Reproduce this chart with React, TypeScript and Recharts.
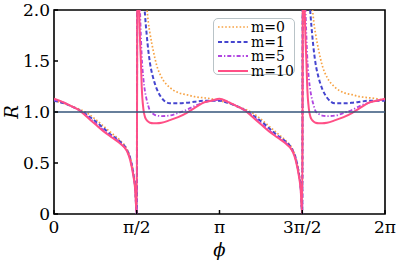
import {
  Label,
  Line,
  LineChart,
  ReferenceArea,
  ReferenceLine,
  XAxis,
  YAxis,
} from "recharts";

// phi in units of pi
const phi = [
  0, 0.05, 0.1, 0.15, 0.2, 0.25, 0.3, 0.35, 0.4, 0.44, 0.46, 0.48, 0.49, 0.5,
  0.505, 0.51, 0.515, 0.52, 0.525, 0.53, 0.54, 0.55, 0.56, 0.57, 0.58, 0.6,
  0.62, 0.65, 0.7, 0.75, 0.8, 0.85, 0.9, 0.95,
  1, 1.05, 1.1, 1.15, 1.2, 1.25, 1.3, 1.35, 1.4, 1.44, 1.46, 1.48, 1.49, 1.5,
  1.505, 1.51, 1.515, 1.52, 1.525, 1.53, 1.54, 1.55, 1.56, 1.57, 1.58, 1.6,
  1.62, 1.65, 1.7, 1.75, 1.8, 1.85, 1.9, 1.95, 2,
];

const m0 = [
  1.11, 1.09, 1.06, 1.03, 0.99, 0.93, 0.86, 0.79, 0.72, 0.64, 0.56, 0.41, 0.29, 0,
  5, 4.5, 4, 3.6, 3.2, 3.0, 2.6, 2.3, 2.05, 1.88, 1.77, 1.6,
  1.46, 1.34, 1.24, 1.19, 1.17, 1.15, 1.14, 1.13,
  1.11, 1.09, 1.06, 1.03, 0.99, 0.93, 0.86, 0.79, 0.72, 0.64, 0.56, 0.41, 0.29, 0,
  5, 4.5, 4, 3.6, 3.2, 3.0, 2.6, 2.3, 2.05, 1.88, 1.77, 1.6,
  1.46, 1.34, 1.24, 1.19, 1.17, 1.15, 1.14, 1.13, 1.11,
];

const m1 = [
  1.11, 1.09, 1.06, 1.02, 0.97, 0.91, 0.84, 0.77, 0.71, 0.63, 0.55, 0.39, 0.27, 0,
  4.5, 4, 3.5, 3.1, 2.8, 2.55, 2.2, 1.95, 1.76, 1.6, 1.48, 1.33,
  1.23, 1.14, 1.085, 1.085, 1.09, 1.1, 1.11, 1.11,
  1.11, 1.09, 1.06, 1.02, 0.97, 0.91, 0.84, 0.77, 0.71, 0.63, 0.55, 0.39, 0.27, 0,
  4.5, 4, 3.5, 3.1, 2.8, 2.55, 2.2, 1.95, 1.76, 1.6, 1.48, 1.33,
  1.23, 1.14, 1.085, 1.085, 1.09, 1.1, 1.11, 1.11, 1.11,
];

const m5 = [
  1.12, 1.1, 1.06, 1.02, 0.96, 0.89, 0.82, 0.76, 0.7, 0.62, 0.54, 0.38, 0.26, 0,
  3.6, 3.0, 2.4, 2.0, 1.75, 1.55, 1.33, 1.2, 1.12, 1.06, 1.01, 0.98,
  0.965, 0.96, 0.965, 0.99, 1.02, 1.06, 1.09, 1.11,
  1.12, 1.1, 1.06, 1.02, 0.96, 0.89, 0.82, 0.76, 0.7, 0.62, 0.54, 0.38, 0.26, 0,
  3.6, 3.0, 2.4, 2.0, 1.75, 1.55, 1.33, 1.2, 1.12, 1.06, 1.01, 0.98,
  0.965, 0.96, 0.965, 0.99, 1.02, 1.06, 1.09, 1.11, 1.12,
];

const m10 = [
  1.13, 1.1, 1.06, 1.02, 0.95, 0.88, 0.81, 0.75, 0.69, 0.62, 0.53, 0.37, 0.25, 0,
  3.0, 2.6, 2.0, 1.7, 1.5, 1.25, 1.03, 0.95, 0.92, 0.905, 0.895, 0.89,
  0.89, 0.895, 0.92, 0.95, 0.99, 1.04, 1.09, 1.11,
  1.13, 1.1, 1.06, 1.02, 0.95, 0.88, 0.81, 0.75, 0.69, 0.62, 0.53, 0.37, 0.25, 0,
  3.0, 2.6, 2.0, 1.7, 1.5, 1.25, 1.03, 0.95, 0.92, 0.905, 0.895, 0.89,
  0.89, 0.895, 0.92, 0.95, 0.99, 1.04, 1.09, 1.11, 1.13,
];

const xTicks = [0, 0.5, 1, 1.5, 2];
const xTickLabels = ["0", "π/2", "π", "3π/2", "2π"];
const yTicks = [0, 0.5, 1, 1.5, 2];

const series = [
  { key: "m0", name: "m=0", color: "#f7a345", dash: "1.6 2", width: 1.7 },
  { key: "m1", name: "m=1", color: "#4545cf", dash: "4 2.4", width: 2 },
  { key: "m5", name: "m=5", color: "#b045e0", dash: "4 2 1.3 2", width: 1.8 },
  { key: "m10", name: "m=10", color: "#ff4f86", dash: undefined, width: 2 },
];

const rows = phi.map((p, i) => ({ phi: p, m0: m0[i], m1: m1[i], m5: m5[i], m10: m10[i] }));

const FONT = "'DejaVu Serif', serif";

const XTick = (props: any) => {
  const { x, y, payload } = props;
  const idx = xTicks.indexOf(payload.value);
  return (
    <g>
      <line x1={x} x2={x} y1={y - 7} y2={y - 11} stroke="#000" strokeWidth={1.5} />
      <text x={x} y={y} dy="0.71em" textAnchor="middle" fontSize={17} fontFamily={FONT} fill="#000">
        {xTickLabels[idx]}
      </text>
    </g>
  );
};

const YTick = (props: any) => {
  const { x, y, payload } = props;
  const v = payload.value as number;
  return (
    <g>
      <line x1={x + 4} x2={x + 8} y1={y} y2={y} stroke="#000" strokeWidth={1.5} />
      <text x={x} y={y} dy="0.36em" textAnchor="end" fontSize={17} fontFamily={FONT} fill="#000">
        {v === 0 ? "0" : v.toFixed(1)}
      </text>
    </g>
  );
};

function LegendBox() {
  return (
    <div
      style={{
        position: "absolute",
        left: 213,
        top: 18,
        width: 82,
        height: 57,
        border: "1px solid #b9c3c7",
        borderRadius: 5,
        background: "rgba(255,255,255,0.85)",
        boxSizing: "border-box",
        fontFamily: FONT,
        fontSize: 14,
      }}
    >
      {series.map((s, i) => (
        <div
          key={s.key}
          style={{ position: "absolute", left: 0, top: 1 + i * 14.7, height: 14, width: 80 }}
        >
          <svg width={32} height={14} style={{ position: "absolute", left: 3, top: 0 }}>
            <line
              x1={1}
              x2={31}
              y1={7}
              y2={7}
              stroke={s.color}
              strokeWidth={s.width}
              strokeDasharray={s.dash}
            />
          </svg>
          <span
            style={{
              position: "absolute",
              left: 37,
              top: 0,
              height: 14,
              lineHeight: "14px",
              color: "#000",
              whiteSpace: "nowrap",
            }}
          >
            {s.name}
          </span>
        </div>
      ))}
    </div>
  );
}

export default function App() {
  return (
    <div style={{ position: "relative", width: 398, height: 266 }}>
      <style>{"body{margin:0}"}</style>
      <LineChart width={398} height={266} data={rows} margin={{ top: 10, right: 13, bottom: 0, left: 0 }}>
        <XAxis
          dataKey="phi"
          type="number"
          domain={[0, 2]}
          ticks={xTicks}
          interval={0}
          allowDataOverflow
          axisLine={false}
          tickLine={false}
          tickSize={0}
          tickMargin={7}
          height={52}
          tick={(p: any) => <XTick {...p} />}
        >
          <Label
            content={() => (
              <text x={219.5} y={256} textAnchor="middle" fontSize={18} fontStyle="italic" fontFamily={FONT}>
                ϕ
              </text>
            )}
          />
        </XAxis>
        <YAxis
          type="number"
          domain={[0, 2]}
          ticks={yTicks}
          interval={0}
          allowDataOverflow
          axisLine={false}
          tickLine={false}
          tickSize={0}
          tickMargin={4}
          width={54}
          tick={(p: any) => <YTick {...p} />}
        >
          <Label
            content={() => (
              <text
                x={11}
                y={112}
                transform="rotate(-90 11 112)"
                textAnchor="middle"
                dominantBaseline="central"
                fontSize={18}
                fontStyle="italic"
                fontFamily={FONT}
              >
                R
              </text>
            )}
          />
        </YAxis>
        {series.map((s) => (
          <Line
            key={s.key}
            dataKey={s.key}
            name={s.name}
            type="monotone"
            stroke={s.color}
            strokeWidth={s.width}
            strokeDasharray={s.dash}
            dot={false}
            activeDot={false}
            isAnimationActive={false}
          />
        ))}
        <ReferenceLine y={1} stroke="#34557a" strokeWidth={1.5} />
        <ReferenceArea x1={0} x2={2} y1={0} y2={2} fill="none" stroke="#000" strokeWidth={1.6} />
      </LineChart>
      <LegendBox />
    </div>
  );
}
